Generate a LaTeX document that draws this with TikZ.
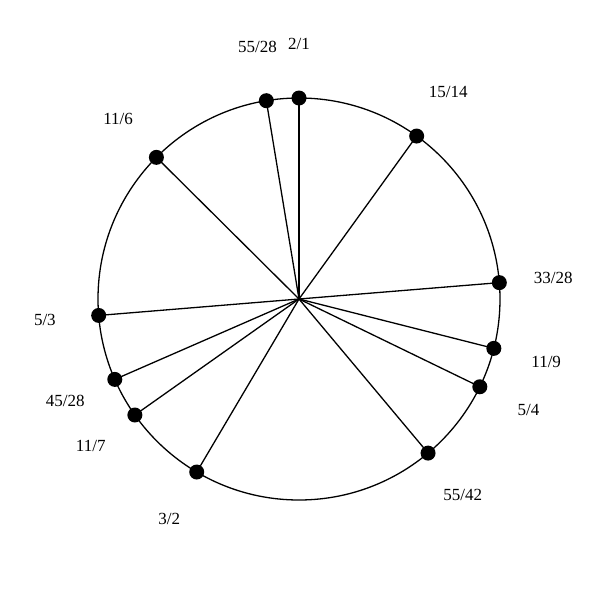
\documentclass[tikz,border=0pt]{standalone}
\usepackage{fontspec}
\setmainfont{Liberation Serif}
\usetikzlibrary{calc}
\begin{document}
\begin{tikzpicture}[x=1pt,y=-1pt,
  spoke/.style={line width=1.3pt},
  dot/.style={circle,fill=black,inner sep=0pt,minimum size=15pt},
  lbl/.style={font=\fontsize{17}{20}\selectfont,inner sep=0pt}]
\useasboundingbox (0,0) rectangle (600,600);
\coordinate (c) at (299,299);
\draw[line width=1.3pt] (c) circle[radius=201];
\foreach \n/\ang/\t in {a/90/2\slash 1, b/54.17/15\slash 14, d/4.67/33\slash 28, e/-14.22/11\slash 9, f/-25.89/5\slash 4, g/-50.05/55\slash 42, h/-120.59/3\slash 2, i/-144.75/11\slash 7, j/-156.42/45\slash 28, k/-175.31/5\slash 3, l/135.19/11\slash 6, m/99.36/55\slash 28}{
  \coordinate (p\n) at ($(c)+(\ang:201 and -201)$);
  \draw[spoke] (c) -- (p\n);
  \node[dot] (d\n) at (p\n) {};
  \node[lbl] (t\n) at ($(c)+(\ang:255 and -255)$) {\t};
}
\end{tikzpicture}
\end{document}
